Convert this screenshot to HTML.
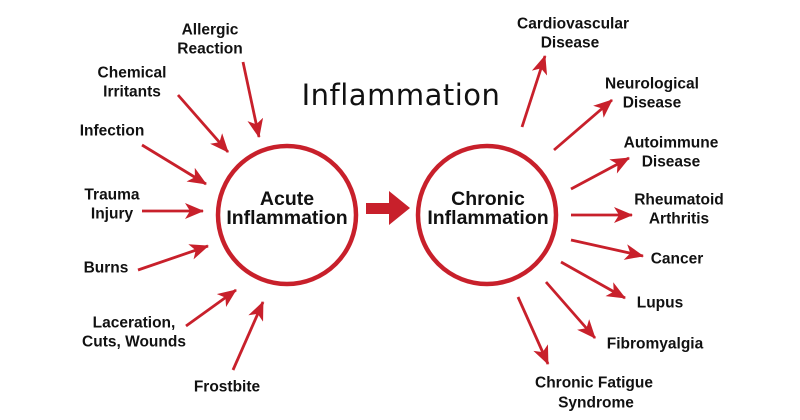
<!DOCTYPE html>
<html><head><meta charset="utf-8"><style>
html,body{margin:0;padding:0;background:#fff;}
svg{display:block}
text{font-family:"Liberation Sans",Arial,sans-serif;font-weight:bold;font-size:15.5px;fill:#111;text-anchor:middle;dominant-baseline:central}
</style></head><body>
<svg width="800" height="420" viewBox="0 0 800 420">
<defs>
<marker id="a" markerWidth="20" markerHeight="16" refX="18" refY="8" orient="auto" markerUnits="userSpaceOnUse">
<path d="M0,0 L19,8 L0,16 L5,8 Z" fill="#c8202b"/>
</marker>
</defs>
<g stroke="#c8202b" stroke-width="2.6" fill="none">
<circle cx="287" cy="215" r="69" stroke-width="4.5"/>
<circle cx="487" cy="215" r="69" stroke-width="4.5"/>
</g>
<path d="M366,203 L389,203 L389,191 L410,208 L389,225 L389,214 L366,214 Z" fill="#c8202b"/>
<g stroke="#c8202b" stroke-width="2.8" marker-end="url(#a)">
<line x1="243" y1="62" x2="259" y2="137"/>
<line x1="178" y1="95" x2="228" y2="152"/>
<line x1="142" y1="145" x2="206" y2="184"/>
<line x1="142" y1="211" x2="203" y2="211"/>
<line x1="138" y1="270" x2="208" y2="246"/>
<line x1="186" y1="326" x2="236" y2="290"/>
<line x1="233" y1="370" x2="263" y2="302"/>
<line x1="522" y1="127" x2="545" y2="56"/>
<line x1="554" y1="150" x2="612" y2="100"/>
<line x1="571" y1="189" x2="629" y2="158"/>
<line x1="571" y1="215" x2="632" y2="215"/>
<line x1="571" y1="240" x2="643" y2="256"/>
<line x1="561" y1="262" x2="625" y2="298"/>
<line x1="546" y1="282" x2="595" y2="338"/>
<line x1="518" y1="297" x2="548" y2="364"/>
</g>
<text x="401" y="95" style="font-weight:normal;font-size:29px;font-family:'DejaVu Sans','Liberation Sans',sans-serif;letter-spacing:0.5px">Inflammation</text>
<text x="287" y="199" style="font-size:19.5px">Acute</text>
<text x="287" y="218" style="font-size:19.5px">Inflammation</text>
<text x="488" y="199" style="font-size:19.5px">Chronic</text>
<text x="488" y="218" style="font-size:19.5px">Inflammation</text>
<text x="210" y="30">Allergic</text><text x="210" y="49">Reaction</text>
<text x="132" y="73">Chemical</text><text x="132" y="92">Irritants</text>
<text x="112" y="131">Infection</text>
<text x="112" y="195">Trauma</text><text x="112" y="214">Injury</text>
<text x="106" y="268">Burns</text>
<text x="134" y="323">Laceration,</text><text x="134" y="342">Cuts, Wounds</text>
<text x="227" y="387">Frostbite</text>
<text x="573" y="24">Cardiovascular</text><text x="570" y="43">Disease</text>
<text x="652" y="84">Neurological</text><text x="652" y="103">Disease</text>
<text x="671" y="143">Autoimmune</text><text x="671" y="162">Disease</text>
<text x="679" y="200">Rheumatoid</text><text x="679" y="219">Arthritis</text>
<text x="677" y="259">Cancer</text>
<text x="660" y="303">Lupus</text>
<text x="655" y="344">Fibromyalgia</text>
<text x="594" y="383">Chronic Fatigue</text><text x="596" y="403">Syndrome</text>
</svg>
</body></html>
